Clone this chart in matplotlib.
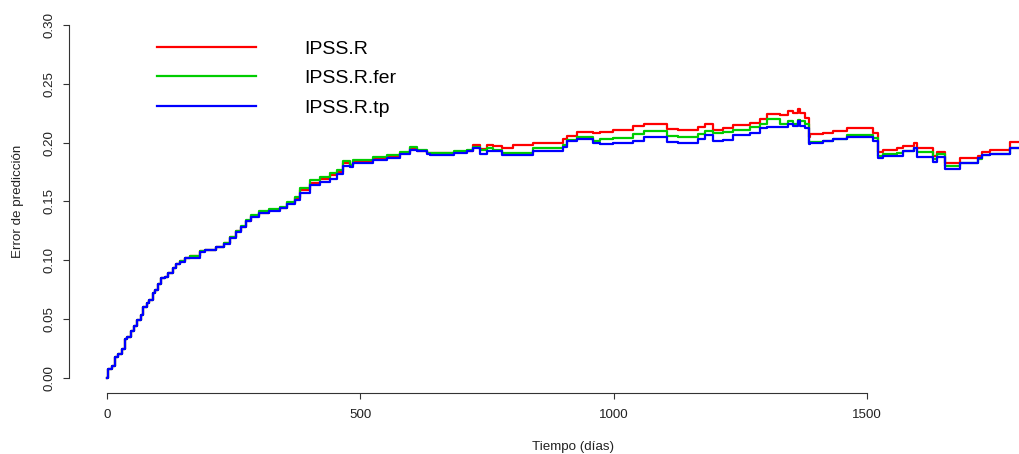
import matplotlib
matplotlib.use("Agg")
import matplotlib.pyplot as plt

plt.rcParams['font.family'] = ['Liberation Sans', 'DejaVu Sans']

# tiempos (dias) y error de prediccion de cada modelo
tiempo = [0, 2, 9, 16, 21, 30, 35, 40, 47, 54, 59, 68, 71, 78, 83, 90, 94, 101,
          107, 114, 121, 131, 137, 144, 154, 164, 184, 194, 215, 230, 243, 255,
          265, 275, 285, 300, 320, 341, 355, 371, 381, 400, 420, 440, 454, 466,
          480, 486, 525, 552, 578, 598, 612, 631, 638, 684, 710, 723, 736, 750,
          762, 780, 802, 841, 900, 908, 928, 960, 973, 999, 1038, 1060, 1105,
          1127, 1167, 1180, 1196, 1215, 1236, 1269, 1289, 1302, 1328, 1344,
          1354, 1364, 1368, 1378, 1386, 1388, 1413, 1433, 1461, 1512, 1522,
          1532, 1560, 1572, 1592, 1598, 1630, 1638, 1654, 1684, 1720, 1727,
          1743, 1782, 1875]

ipss_r = [0, 0.007, 0.010, 0.018, 0.020, 0.0244, 0.0326, 0.035, 0.040, 0.044,
          0.049, 0.0533, 0.060, 0.0633, 0.066, 0.0718, 0.075, 0.080, 0.0845,
          0.086, 0.0888, 0.093, 0.0967, 0.0990, 0.1020, 0.1035, 0.1075, 0.1090,
          0.1115, 0.1145, 0.1195, 0.1245, 0.1285, 0.1335, 0.1375, 0.1405,
          0.1425, 0.1445, 0.1485, 0.1525, 0.160, 0.166, 0.169, 0.172, 0.175,
          0.183, 0.181, 0.184, 0.186, 0.188, 0.191, 0.195, 0.193, 0.191, 0.191,
          0.192, 0.193, 0.198, 0.1947, 0.198, 0.197, 0.195, 0.198, 0.200, 0.203,
          0.2056, 0.2093, 0.2085, 0.2093, 0.2107, 0.214, 0.2155, 0.2115, 0.211,
          0.213, 0.2155, 0.211, 0.212, 0.215, 0.217, 0.220, 0.224, 0.2235,
          0.227, 0.225, 0.2285, 0.2255, 0.221, 0.205, 0.207, 0.2085, 0.2095,
          0.212, 0.208, 0.192, 0.194, 0.1955, 0.197, 0.1994, 0.1955, 0.1888,
          0.1922, 0.183, 0.1866, 0.189, 0.1917, 0.1937, 0.2002, 0.2002]

ipss_r_fer = [0, 0.007, 0.010, 0.018, 0.020, 0.0244, 0.0326, 0.035, 0.040,
              0.044, 0.049, 0.0533, 0.060, 0.0633, 0.066, 0.0718, 0.075, 0.080,
              0.0845, 0.086, 0.0888, 0.093, 0.0967, 0.0990, 0.1020, 0.1035,
              0.1075, 0.1090, 0.1115, 0.1145, 0.1195, 0.1250, 0.1290, 0.1340,
              0.1380, 0.1415, 0.1435, 0.1455, 0.1495, 0.1535, 0.161, 0.168,
              0.171, 0.174, 0.177, 0.1846, 0.181, 0.185, 0.1875, 0.1894, 0.192,
              0.196, 0.194, 0.191, 0.1914, 0.1932, 0.194, 0.196, 0.194, 0.195,
              0.194, 0.1914, 0.1914, 0.195, 0.198, 0.202, 0.205, 0.2015, 0.203,
              0.204, 0.207, 0.210, 0.206, 0.2045, 0.207, 0.210, 0.208, 0.209,
              0.211, 0.213, 0.216, 0.220, 0.216, 0.218, 0.216, 0.219, 0.2185,
              0.216, 0.200, 0.2005, 0.2015, 0.2028, 0.2064, 0.2035, 0.1886,
              0.190, 0.191, 0.1928, 0.195, 0.192, 0.186, 0.1905, 0.180, 0.183,
              0.186, 0.1894, 0.190, 0.195, 0.195]

ipss_r_tp = [0, 0.007, 0.010, 0.018, 0.020, 0.0244, 0.0326, 0.035, 0.040,
             0.044, 0.049, 0.0533, 0.060, 0.0633, 0.066, 0.0718, 0.075, 0.080,
             0.0845, 0.086, 0.0888, 0.093, 0.0967, 0.0987, 0.1016, 0.1016,
             0.107, 0.1086, 0.111, 0.114, 0.119, 0.124, 0.128, 0.133, 0.137,
             0.140, 0.142, 0.144, 0.148, 0.151, 0.157, 0.164, 0.1667, 0.169,
             0.173, 0.180, 0.179, 0.183, 0.185, 0.187, 0.190, 0.194, 0.193,
             0.190, 0.1894, 0.1914, 0.193, 0.195, 0.190, 0.193, 0.193, 0.1894,
             0.1894, 0.193, 0.196, 0.201, 0.2028, 0.200, 0.1988, 0.1997, 0.2015,
             0.2045, 0.2007, 0.200, 0.203, 0.2064, 0.201, 0.202, 0.2064, 0.208,
             0.212, 0.2135, 0.2135, 0.216, 0.214, 0.2186, 0.214, 0.2125, 0.1988,
             0.1997, 0.201, 0.2028, 0.205, 0.2016, 0.1866, 0.1886, 0.189,
             0.1928, 0.195, 0.188, 0.1832, 0.188, 0.1775, 0.183, 0.1865, 0.1894,
             0.190, 0.1951, 0.1951]

series = [("IPSS.R", ipss_r, "#FF0000"),
          ("IPSS.R.fer", ipss_r_fer, "#00CD00"),
          ("IPSS.R.tp", ipss_r_tp, "#0000FF")]

x_ticks = [0, 500, 1000, 1500]
y_ticks = [0.00, 0.05, 0.10, 0.15, 0.20, 0.25, 0.30]

W, H = 1020, 454
fig = plt.figure(figsize=(W / 100, H / 100), dpi=100)
# plot region runs past the right border, like the original
ax = fig.add_axes([69 / W, (H - 393) / H, 1026 / W, 382.1 / H])

for name, vals, col in series:
    ax.plot(tiempo, vals, drawstyle="steps-post", color=col, lw=1.6, label=name)

ax.set_xlim(-75, 1950)
ax.set_ylim(-0.013, 0.312)

for s in ["top", "right"]:
    ax.spines[s].set_visible(False)
ax.spines["left"].set_bounds(0, 0.30)
ax.spines["bottom"].set_bounds(0, 1500)
for s in ["left", "bottom"]:
    ax.spines[s].set_linewidth(0.8)
    ax.spines[s].set_color("#333333")

ax.set_xticks(x_ticks)
ax.set_yticks(y_ticks)
ax.set_yticklabels([f"{v:.2f}" for v in y_ticks], rotation=90, va="center")
ax.tick_params(axis="both", direction="out", length=4, width=0.8,
               color="#333333", labelsize=9.6, labelcolor="#222222")
ax.tick_params(axis="x", pad=7.5)
ax.tick_params(axis="y", pad=5.5)

fig.text(573 / W, 1 - 447 / H, "Tiempo (días)", ha="center", va="center",
         fontsize=9.6, color="#222222")
fig.text(18 / W, 1 - 201 / H, "Error de predicción", ha="center", va="center",
         rotation=90, fontsize=9.6, color="#222222")

ax.legend(loc="upper left", bbox_to_anchor=(157 / W, 1 - 40 / H),
          bbox_transform=fig.transFigure, frameon=False, fontsize=14,
          handlelength=5.1, handletextpad=2.45, labelspacing=0.62,
          borderpad=0, borderaxespad=0)

fig.savefig("out.png", dpi=100)
